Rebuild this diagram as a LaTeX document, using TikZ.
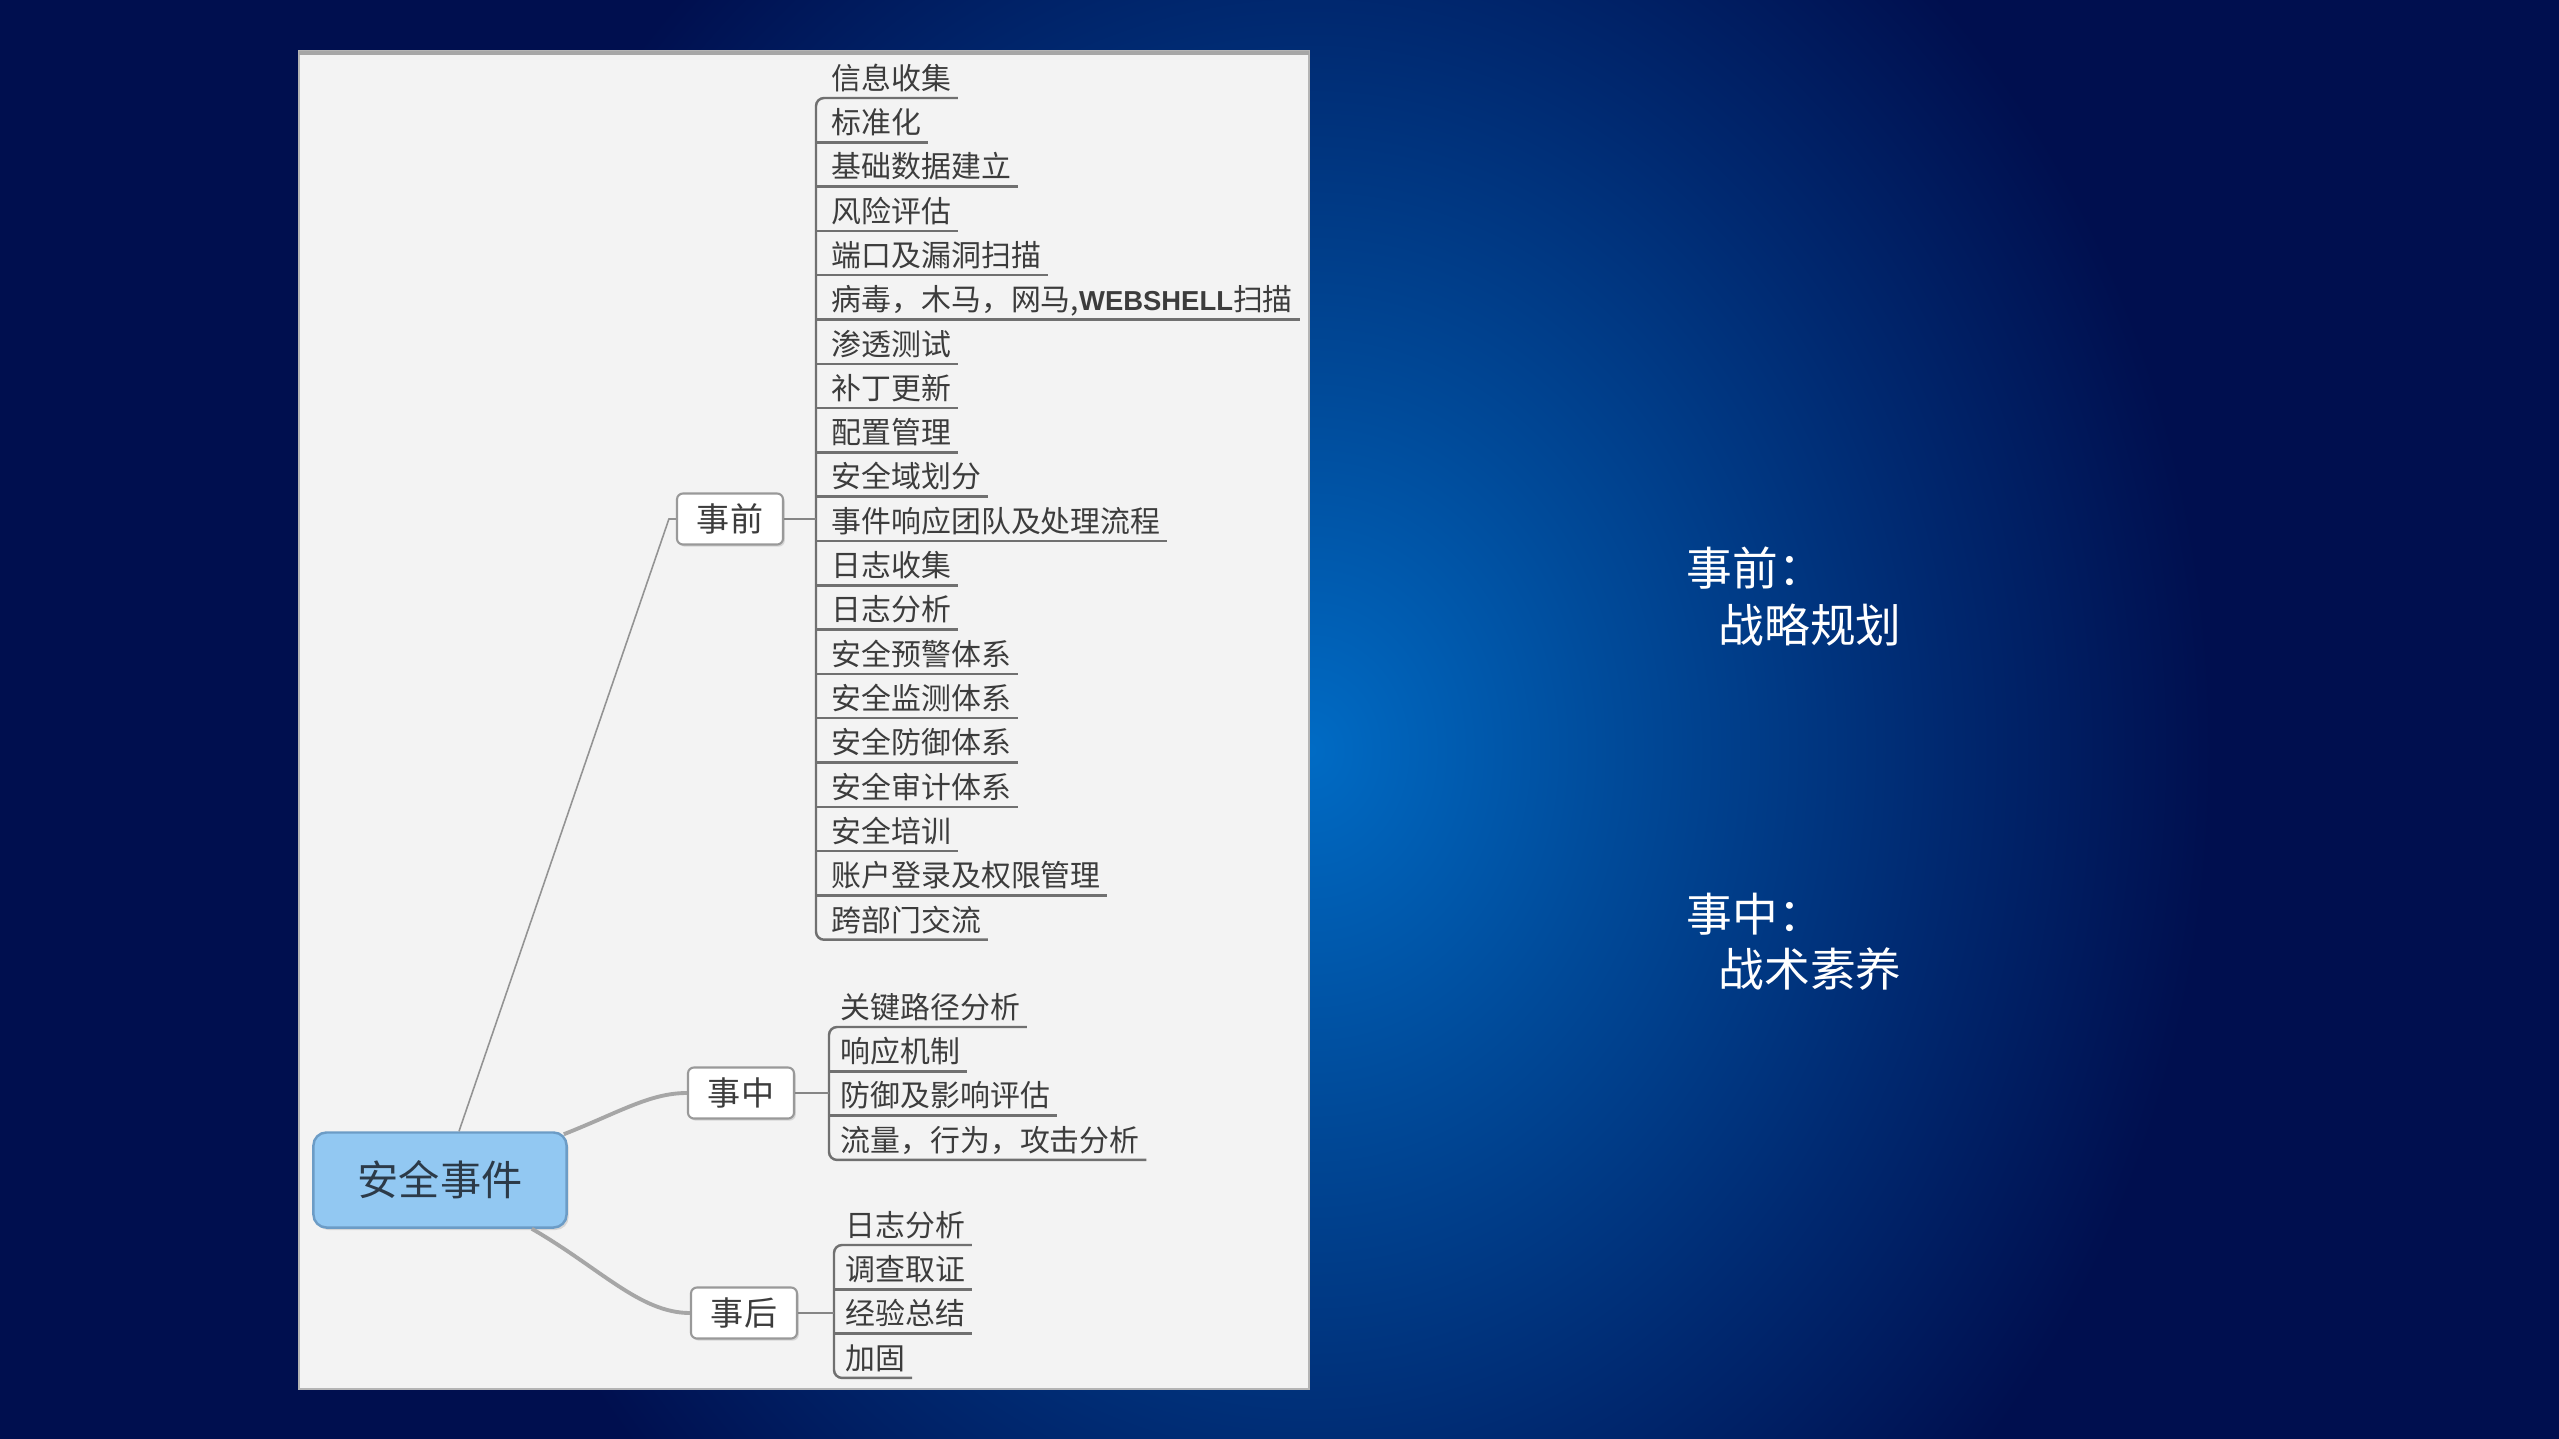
\documentclass[tikz,border=0pt]{standalone}
\usepackage{fontspec}
\newfontfamily\cjk{Noto Sans CJK SC}
\newfontfamily\latinsans{Liberation Sans}
\usetikzlibrary{calc,shadows}
\pgfdeclareradialshading{bgglow}{\pgfpoint{0bp}{0bp}}{rgb(0bp)=(0.0,0.42,0.77); rgb(8.6bp)=(0.0,0.29,0.60); rgb(17.5bp)=(0.0,0.16,0.44); rgb(25bp)=(0.0,0.06,0.31); rgb(50bp)=(0.0,0.06,0.31)}
\definecolor{bgdark}{rgb}{0.0,0.06,0.31}
\definecolor{panelbg}{HTML}{F3F3F3}
\definecolor{panelborder}{HTML}{B4B4B4}
\definecolor{itemtext}{HTML}{3C3C3C}
\definecolor{ulinec}{HTML}{707070}
\definecolor{rootfill}{HTML}{92C8F2}
\definecolor{rootdraw}{HTML}{6C9CC6}
\definecolor{roottext}{HTML}{2C3A48}
\begin{document}
\begin{tikzpicture}[x=0.01cm,y=-0.01cm,
  item/.style={font=\cjk\fontsize{8.5}{10}\selectfont, text=itemtext, inner xsep=0.06cm, inner ysep=0.08cm, text height=0.8em, text depth=0pt, anchor=south west},
  uline/.style={draw=ulinec, line width=0.7pt},
  spine/.style={draw=ulinec!85, line width=0.6pt},
  lvlbox/.style={draw=gray!80, fill=white, rounded corners=0.06cm, line width=0.6pt, font=\cjk\fontsize{9.4}{11}\selectfont, text=itemtext, minimum width=1.06cm, minimum height=0.51cm, inner sep=0pt, drop shadow={shadow xshift=0.5pt, shadow yshift=-0.6pt, opacity=0.25}},
  rootbox/.style={draw=rootdraw, fill=rootfill, rounded corners=0.13cm, line width=0.7pt, font=\cjk\fontsize{11.7}{14}\selectfont, text=roottext, minimum width=2.53cm, minimum height=0.95cm, inner sep=0pt, drop shadow={shadow xshift=0.6pt, shadow yshift=-0.7pt, opacity=0.25}},
  thinconn/.style={draw=gray!85, line width=0.45pt},
  thickconn/.style={draw=gray!70, line width=1.1pt},
  sidetext/.style={font=\cjk\fontsize{13}{15}\selectfont, text=white, anchor=west, inner sep=0pt}
]
\useasboundingbox (0,0) rectangle (2559,1439);
% background
\fill[bgdark] (0,0) rectangle (2559,1439);
\begin{scope}
  \clip (0,0) rectangle (2559,1439);
  \shade[shading=bgglow] (1310,750) ellipse [x radius=900, y radius=1050];
\end{scope}
% panel
\draw[fill=panelbg, draw=panelborder, line width=0.8pt] (299,51) rectangle (1309,1389);
\draw[gray!70, line width=1.1pt] (299,53) -- (1309,53);
% coordinates of spines
\coordinate (qs) at (816,0);
\coordinate (ms) at (829,0);
\coordinate (hs) at (834,0);
% root and level-1 nodes
\node[rootbox] (root) at (440,1180) {安全事件};
\node[lvlbox] (qian) at (730,519) {事前};
\node[lvlbox] (zhong) at (741,1093) {事中};
\node[lvlbox] (hou) at (744,1313) {事后};
% items of 事前
\foreach \t [count=\i] in {信息收集, 标准化, 基础数据建立, 风险评估, 端口及漏洞扫描, {病毒，木马，网马,{\latinsans\bfseries\fontsize{7.8}{10}\selectfont WEBSHELL}扫描}, 渗透测试, 补丁更新, 配置管理, 安全域划分, 事件响应团队及处理流程, 日志收集, 日志分析, 安全预警体系, 安全监测体系, 安全防御体系, 安全审计体系, 安全培训, 账户登录及权限管理, 跨部门交流}
  \node[item] (p\i) at (825,{98+44.3*(\i-1)}) {\t};
\foreach \t [count=\i] in {关键路径分析, 响应机制, 防御及影响评估, 流量，行为，攻击分析}
  \node[item] (m\i) at (834,{1027+44.3*(\i-1)}) {\t};
\foreach \t [count=\i] in {日志分析, 调查取证, 经验总结, 加固}
  \node[item] (h\i) at (839,{1245+44.3*(\i-1)}) {\t};
% spines and underlines
\draw[uline, rounded corners=0.08cm] (p1.south east) -- (p1.south west -| qs) -- (p20.south west -| qs) -- (p20.south east);
\foreach \i in {2,...,19} \draw[uline] (p\i.south west -| qs) -- (p\i.south east);
\draw[uline, rounded corners=0.08cm] (m1.south east) -- (m1.south west -| ms) -- (m4.south west -| ms) -- (m4.south east);
\foreach \i in {2,3} \draw[uline] (m\i.south west -| ms) -- (m\i.south east);
\draw[uline, rounded corners=0.08cm] (h1.south east) -- (h1.south west -| hs) -- (h4.south west -| hs) -- (h4.south east);
\foreach \i in {2,3} \draw[uline] (h\i.south west -| hs) -- (h\i.south east);
% level-1 to spines
\draw[spine] (qian.east) -- (qian.east -| qs);
\draw[spine] (zhong.east) -- (zhong.east -| ms);
\draw[spine] (hou.east) -- (hou.east -| hs);
% root connectors
\draw[thinconn] ($(root.north)+(19,0)$) -- ($(qian.west)+(-7,0)$) -- (qian.west);
\draw[thickconn] ($(root.north east)+(-4,3)$) .. controls (620,1112) and (650,1093) .. (zhong.west);
\draw[thickconn] ($(root.south east)+(-36,0)$) .. controls (600,1268) and (640,1313) .. (hou.west);
% side text
\node[sidetext] (t1) at (1686,568) {事前：};
\node[sidetext] (t2) at (1718,625) {战略规划};
\node[sidetext] (t3) at (1686,914) {事中：};
\node[sidetext] (t4) at (1718,969) {战术素养};
\end{tikzpicture}
\end{document}
